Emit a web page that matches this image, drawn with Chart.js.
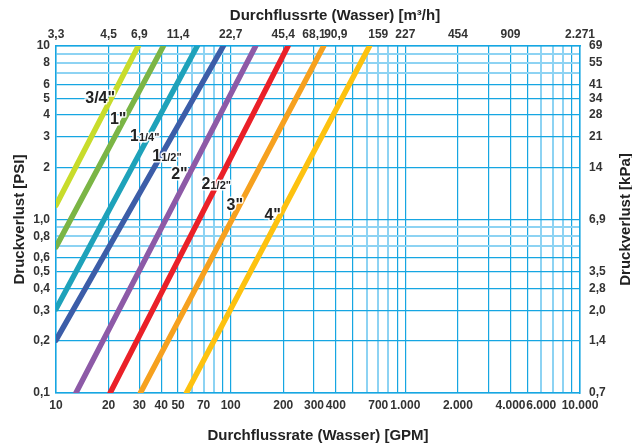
<!DOCTYPE html>
<html>
<head>
<meta charset="utf-8">
<title>Druckverlust</title>
<script src="https://cdn.jsdelivr.net/npm/chart.js@4.4.0/dist/chart.umd.min.js"></script>
<style>
  html, body { margin: 0; padding: 0; background: #fff; }
  #lossChart { display: block; }
</style>
</head>
<body>
<canvas id="lossChart" width="632" height="446"></canvas>
<script>
'use strict';

// pipe sizes and their friction loss lines (GPM / PSI)
var sizes = ['3/4"', '1"', '1 1/4"', '1 1/2"', '2"', '2 1/2"', '3"', '4"'];
var lineColors = ['#c8dc2b', '#7bb545', '#1ea2ba', '#3c5da8', '#8d5aa7', '#ea2028', '#f6a11f', '#fdc210'];
var flowStart = [10, 10, 10, 10, 13, 20.4, 30.4, 55.8];
var psiStart = [1.21, 0.695, 0.305, 0.202, 0.1, 0.1, 0.1, 0.1];
var flowEnd = [29.6, 41.2, 64.4, 90.8, 139, 213, 341, 624];
var psiEnd = [10, 10, 10, 10, 10, 10, 10, 10];

// axis ticks
var gpmTicks = [10, 20, 30, 40, 50, 60, 70, 80, 90,
                100, 200, 300, 400, 500, 600, 700, 800, 900,
                1000, 2000, 3000, 4000, 5000, 6000, 7000, 8000, 9000, 10000];
var gpmLabelValues = [10, 20, 30, 40, 50, 70, 100, 200, 300, 400, 700, 1000, 2000, 4000, 6000, 10000];
var gpmLabelTexts = ['10', '20', '30', '40', '50', '70', '100', '200', '300', '400', '700',
                     '1.000', '2.000', '4.000', '6.000', '10.000'];
var m3hLabelValues = [10, 20, 30, 50, 100, 200, 300, 400, 700, 1000, 2000, 4000, 10000];
var m3hLabelTexts = ['3,3', '4,5', '6,9', '11,4', '22,7', '45,4', '68,1', '90,9', '159', '227', '454', '909', '2.271'];

var psiTicks = [0.1, 0.2, 0.3, 0.4, 0.5, 0.6, 0.7, 0.8, 0.9, 1, 2, 3, 4, 5, 6, 7, 8, 9, 10];
var psiLabelValues = [0.1, 0.2, 0.3, 0.4, 0.5, 0.6, 0.8, 1, 2, 3, 4, 5, 6, 8, 10];
var psiLabelTexts = ['0,1', '0,2', '0,3', '0,4', '0,5', '0,6', '0,8', '1,0', '2', '3', '4', '5', '6', '8', '10'];
var kpaLabelValues = [0.1, 0.2, 0.3, 0.4, 0.5, 1, 2, 3, 4, 5, 6, 8, 10];
var kpaLabelTexts = ['0,7', '1,4', '2,0', '2,8', '3,5', '6,9', '14', '21', '28', '34', '41', '55', '69'];

// where the size names sit (GPM / PSI)
var nameFlow = [17.9, 22.7, 32.2, 43.2, 50.9, 82.7, 105.6, 174];
var namePsi = [5.08, 3.85, 3.07, 2.36, 1.85, 1.62, 1.23, 1.08];

var family = '"Liberation Sans", Arial, Helvetica, sans-serif';
var gridDark = '#16a6e2';
var gridLight = '#8dd3f3';

function labelFor(values, texts) {
    return function(value) {
        for (var i = 0; i < values.length; i++) {
            if (Math.abs(values[i] - value) < value * 1e-6) return texts[i];
        }
        return '';
    };
}

function mantissa(v) {
    return Math.round(v / Math.pow(10, Math.floor(Math.log10(v) + 1e-9)));
}

function setTicks(list) {
    return function(scale) {
        scale.ticks = list.map(function(v) { return {value: v}; });
    };
}

function fixSize(prop, px) {
    return function(scale) { scale[prop] = px; };
}

var datasets = sizes.map(function(name, i) {
    return {
        label: name,
        data: [{x: flowStart[i], y: psiStart[i]}, {x: flowEnd[i], y: psiEnd[i]}],
        borderColor: lineColors[i],
        backgroundColor: lineColors[i],
        borderWidth: 5.5,
        borderCapStyle: 'round',
        showLine: true,
        pointRadius: 0,
        tension: 0
    };
});

var tickFont = {family: family, size: 12, weight: 'bold'};

var sizeNames = {
    id: 'sizeNames',
    afterDatasetsDraw: function(chart) {
        var ctx = chart.ctx, sx = chart.scales.x, sy = chart.scales.y;
        ctx.save();
        ctx.textBaseline = 'alphabetic';
        ctx.textAlign = 'left';
        ctx.lineJoin = 'round';
        ctx.strokeStyle = 'rgba(255,255,255,0.9)';
        ctx.lineWidth = 3;
        ctx.fillStyle = '#222';
        sizes.forEach(function(name, i) {
            var parts = name.split(' ');
            var big = parts[0], small = parts[1] || '';
            ctx.font = 'bold 16px ' + family;
            var wBig = ctx.measureText(big).width;
            ctx.font = 'bold 11px ' + family;
            var wSmall = small ? ctx.measureText(small).width : 0;
            var x0 = sx.getPixelForValue(nameFlow[i]) - (wBig + wSmall) / 2;
            var base = sy.getPixelForValue(namePsi[i]) + 6;
            ctx.font = 'bold 16px ' + family;
            ctx.strokeText(big, x0, base);
            ctx.fillText(big, x0, base);
            if (small) {
                ctx.font = 'bold 11px ' + family;
                ctx.strokeText(small, x0 + wBig, base);
                ctx.fillText(small, x0 + wBig, base);
            }
        });
        ctx.restore();
    },
    afterDraw: function(chart) {
        var ctx = chart.ctx;
        ctx.save();
        ctx.fillStyle = '#222';
        ctx.font = 'bold 15px ' + family;
        ctx.textAlign = 'center';
        ctx.textBaseline = 'middle';
        ctx.fillText('Durchflussrte (Wasser) [m\u00b3/h]', 335, 16);
        ctx.translate(626, (chart.chartArea.top + chart.chartArea.bottom) / 2);
        ctx.rotate(-Math.PI / 2);
        ctx.fillText('Druckverlust [kPa]', 0, 0);
        ctx.restore();
    }
};

new Chart(document.getElementById('lossChart'), {
    type: 'scatter',
    data: {datasets: datasets},
    plugins: [sizeNames],
    options: {
        responsive: false,
        animation: false,
        layout: {padding: 0},
        plugins: {
            legend: {display: false},
            tooltip: {enabled: false}
        },
        scales: {
            x: {
                type: 'logarithmic',
                position: 'bottom',
                min: 10,
                max: 10000,
                afterBuildTicks: setTicks(gpmTicks),
                afterFit: fixSize('height', 53),
                ticks: {
                    autoSkip: false, maxRotation: 0, minRotation: 0, padding: 5,
                    color: '#333', font: tickFont,
                    callback: labelFor(gpmLabelValues, gpmLabelTexts)
                },
                grid: {
                    drawTicks: false,
                    color: function(c) { var m = mantissa(c.tick.value); return (m >= 6 && m <= 8) ? gridLight : gridDark; },
                    lineWidth: function(c) { var m = mantissa(c.tick.value); return (m >= 6 && m <= 8) ? 2 : 1.2; }
                },
                border: {color: gridDark, width: 1.5},
                title: {
                    display: true, text: 'Durchflussrate (Wasser) [GPM]', color: '#222',
                    font: {family: family, size: 15, weight: 'bold'}, padding: {top: 0, bottom: 1}
                }
            },
            x2: {
                type: 'logarithmic',
                position: 'top',
                min: 10,
                max: 10000,
                afterBuildTicks: setTicks(gpmTicks),
                afterFit: fixSize('height', 46),
                ticks: {
                    autoSkip: false, maxRotation: 0, minRotation: 0, padding: 4,
                    color: '#333', font: tickFont,
                    callback: labelFor(m3hLabelValues, m3hLabelTexts)
                },
                grid: {drawOnChartArea: false, drawTicks: false},
                border: {color: gridDark, width: 1.5}
            },
            y: {
                type: 'logarithmic',
                position: 'left',
                min: 0.1,
                max: 10,
                afterBuildTicks: setTicks(psiTicks),
                afterFit: fixSize('width', 56),
                ticks: {
                    autoSkip: false, padding: 6,
                    color: '#333', font: tickFont,
                    callback: labelFor(psiLabelValues, psiLabelTexts)
                },
                grid: {
                    drawTicks: false,
                    color: function(c) { var m = mantissa(c.tick.value); return (m >= 7) ? gridLight : gridDark; },
                    lineWidth: function(c) { var m = mantissa(c.tick.value); return (m >= 7) ? 2 : 1.2; }
                },
                border: {color: gridDark, width: 1.5},
                title: {
                    display: true, text: 'Druckverlust [PSI]', color: '#222',
                    font: {family: family, size: 15, weight: 'bold'}, padding: {top: 11, bottom: 0}
                }
            },
            y2: {
                type: 'logarithmic',
                position: 'right',
                min: 0.1,
                max: 10,
                afterBuildTicks: setTicks(psiTicks),
                afterFit: fixSize('width', 52),
                ticks: {
                    autoSkip: false, padding: 9,
                    color: '#333', font: tickFont,
                    callback: labelFor(kpaLabelValues, kpaLabelTexts)
                },
                grid: {drawOnChartArea: false, drawTicks: false},
                border: {color: gridDark, width: 1.5}
            }
        }
    }
});
</script>
</body>
</html>
